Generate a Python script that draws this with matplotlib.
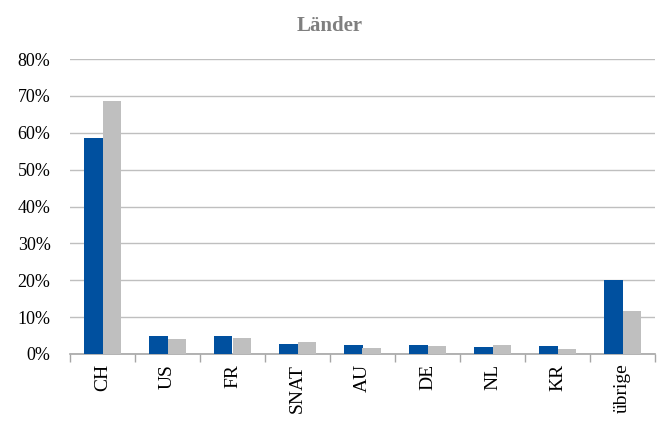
import numpy as np
import matplotlib.pyplot as plt
from matplotlib.ticker import PercentFormatter

plt.rcParams['font.family'] = ['Liberation Serif', 'DejaVu Serif']

# data
laender = ['CH', 'US', 'FR', 'SNAT', 'AU', 'DE', 'NL', 'KR', 'übrige']
serie1 = [58.5, 4.9, 5.0, 2.7, 2.4, 2.4, 2.0, 2.2, 20.0]
serie2 = [68.6, 4.2, 4.4, 3.2, 1.7, 2.2, 2.5, 1.4, 11.6]

fig = plt.figure(figsize=(6.6, 4.22), dpi=100)
ax = fig.add_axes([70/660, (422-354)/422, 585/660, 295/422])

x = np.arange(len(laender))
w = 0.29
ax.bar(x - w/2, serie1, w, color='#00509F', zorder=3)
ax.bar(x + w/2, serie2, w, color='#BFBFBF', zorder=3)

ax.set_xlim(-0.5, len(laender) - 0.5)
ax.set_ylim(0, 80)
ax.set_yticks(np.arange(0, 81, 10))
ax.yaxis.set_major_formatter(PercentFormatter(decimals=0))
ax.grid(axis='y', color='#BFBFBF', linewidth=1, zorder=0)

ax.set_xticks(x)
ax.set_xticklabels(laender, rotation=90, fontsize=14)
ax.set_xticks(np.arange(-0.5, len(laender)), minor=True)
ax.tick_params(axis='x', which='major', length=0, pad=7)
ax.tick_params(axis='x', which='minor', length=6, color='#A6A6A6', width=1)
ax.tick_params(axis='y', length=0, labelsize=13, pad=14)

for s in ['top', 'right', 'left']:
    ax.spines[s].set_visible(False)
ax.spines['bottom'].set_color('#A6A6A6')
ax.spines['bottom'].set_linewidth(1.2)

fig.text(0.5, 1 - 26/422, 'Länder', ha='center', va='center',
         fontsize=15, fontweight='bold', color='#7F7F7F')

fig.savefig('out.png', dpi=100)
